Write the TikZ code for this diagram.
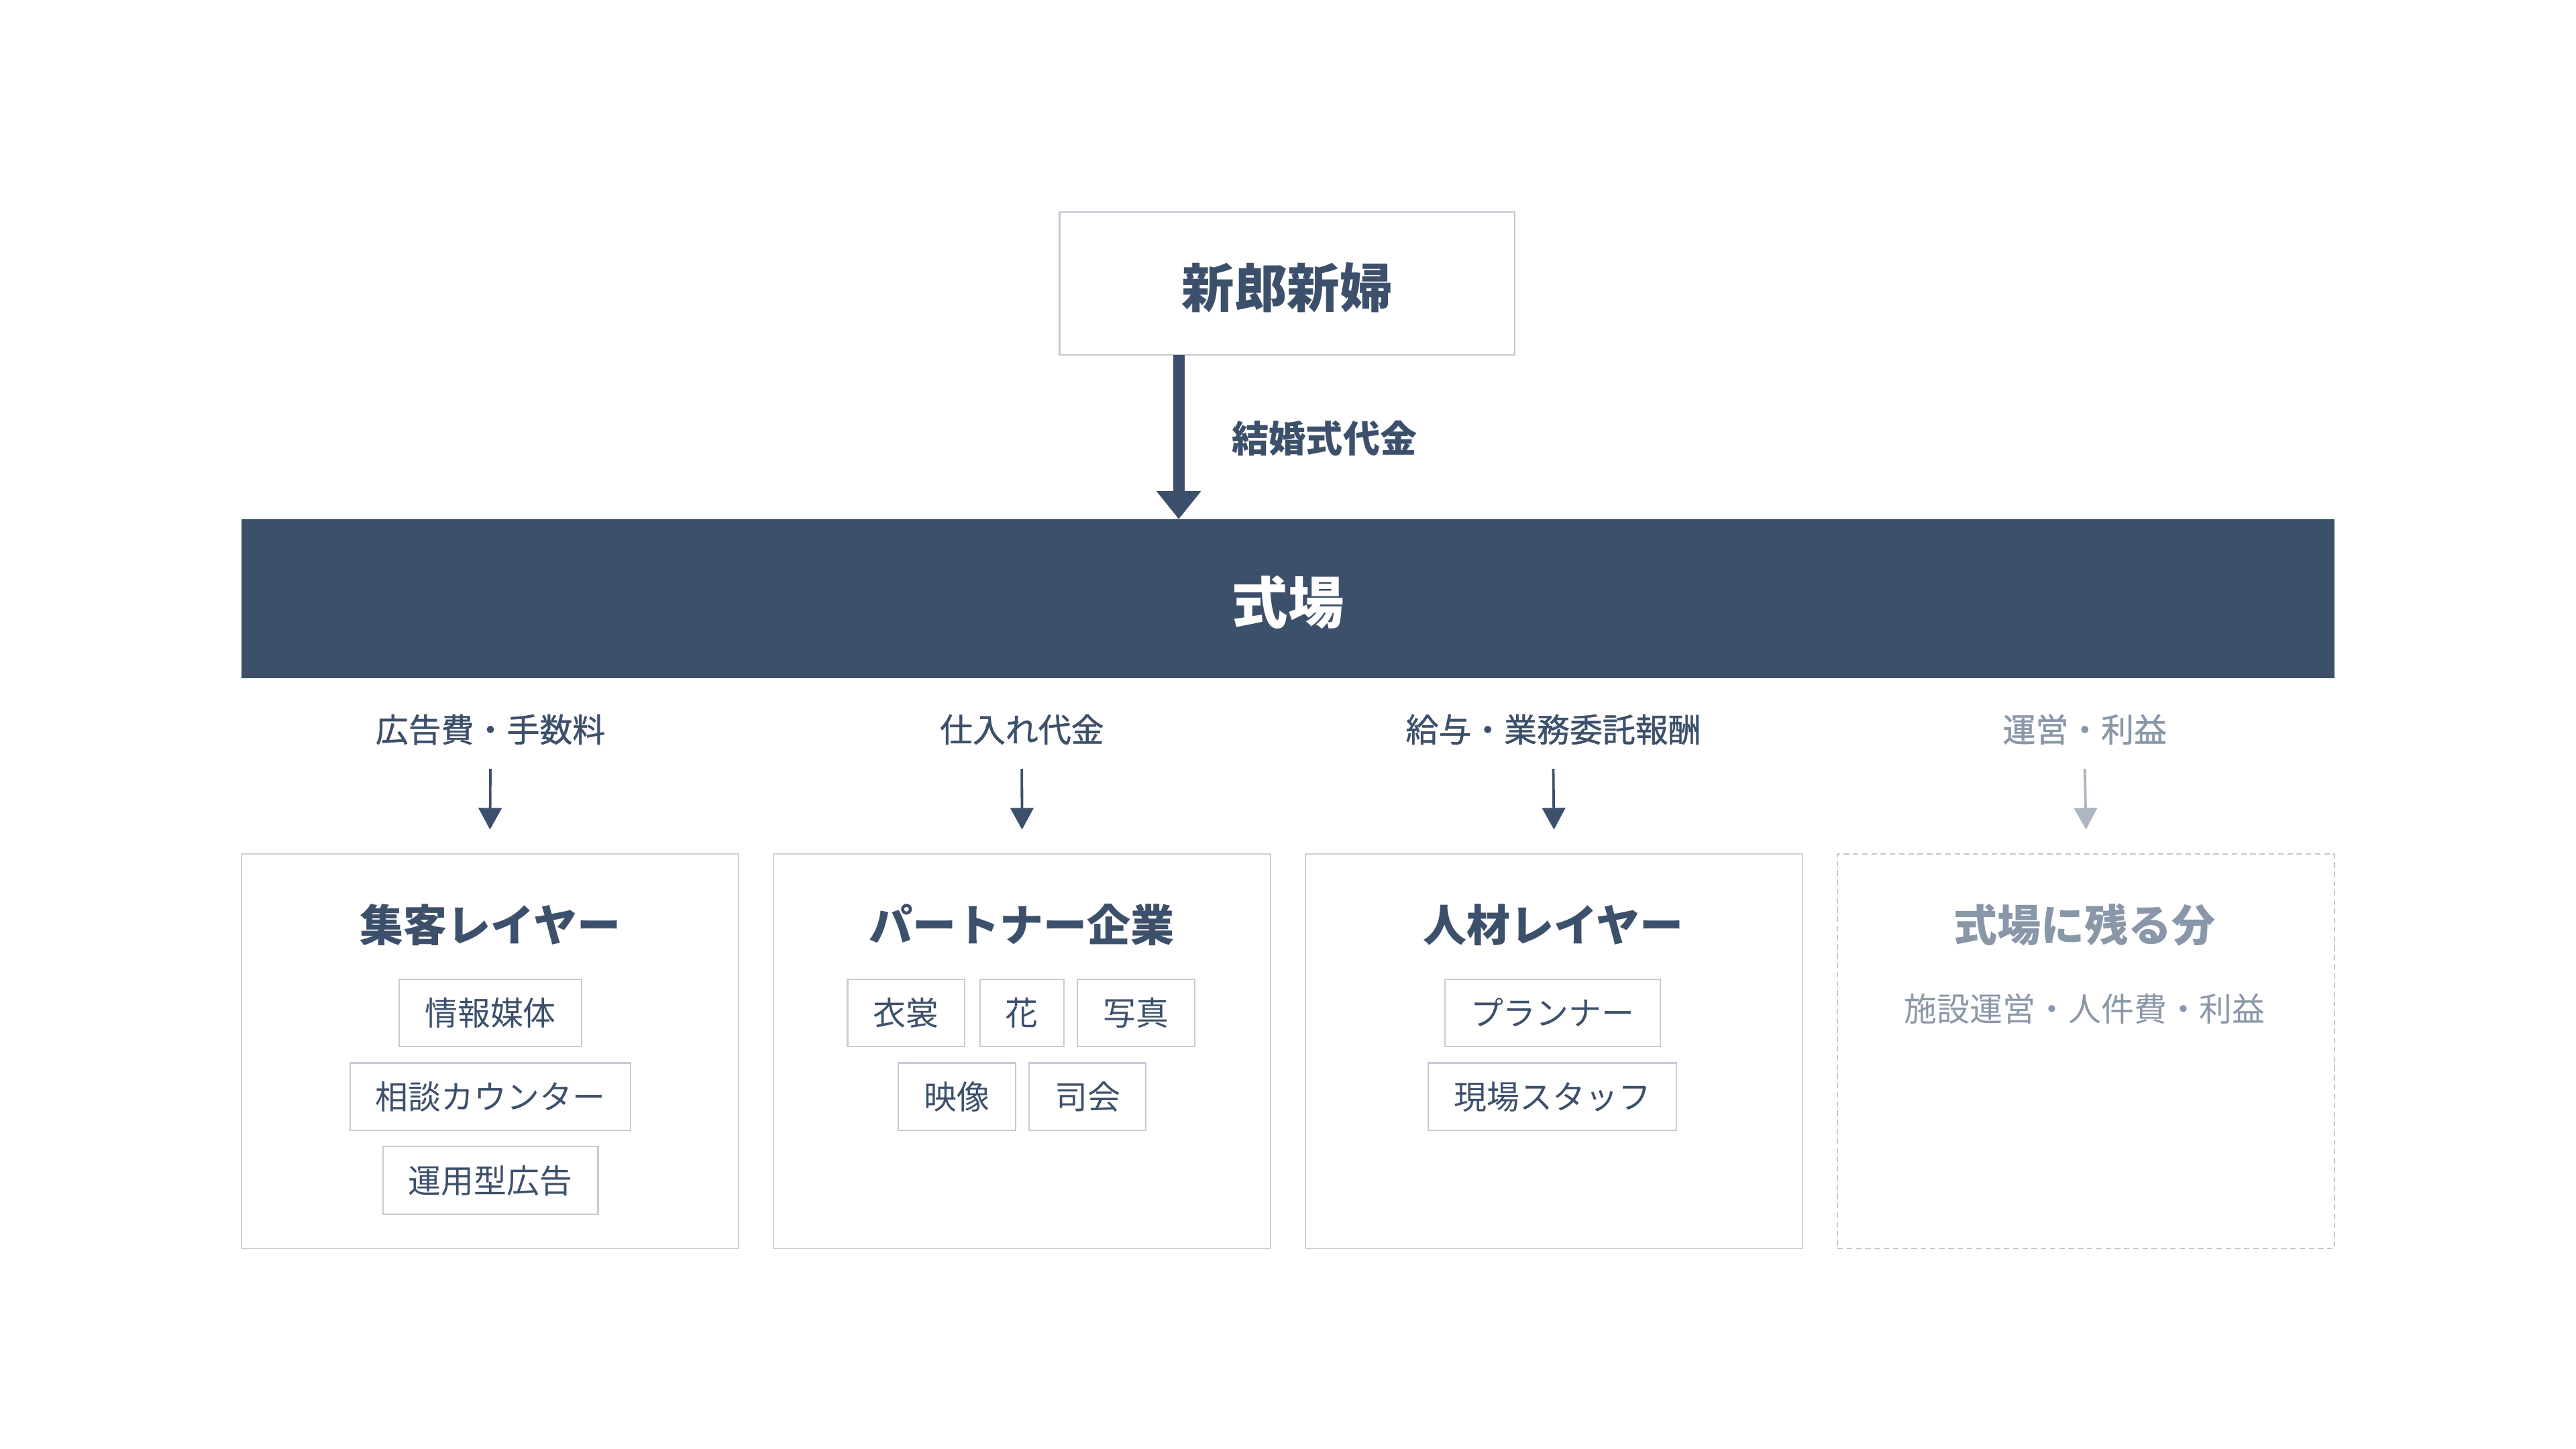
\documentclass[tikz,border=0pt]{standalone}
\usepackage{fontspec}
\setmainfont{Noto Sans CJK JP}
\newfontfamily\jpmed{Noto Sans CJK JP}[FakeBold=1.0]
\usetikzlibrary{arrows.meta,calc}
\definecolor{navy}{HTML}{3D506B}
\definecolor{boxline}{HTML}{CDD2DA}
\definecolor{topline}{HTML}{C0C7D1}
\definecolor{tagline}{HTML}{C6CCD5}
\definecolor{graytxt}{HTML}{8A97A8}
\definecolor{grayarr}{HTML}{AEB6C2}
\definecolor{dashline}{HTML}{C2C8D1}
\begin{document}
\begin{tikzpicture}[x=0.025cm,y=-0.025cm,
  every node/.style={inner sep=0pt, outer sep=0pt},
  couplebox/.style={draw=topline, line width=0.7pt, minimum width=6.925cm, minimum height=2.175cm},
  coupletext/.style={font=\bfseries\fontsize{22.8pt}{22.8pt}\selectfont, text=navy, text height=20pt, text depth=2.7pt},
  venuebar/.style={fill=navy, minimum width=31.85cm, minimum height=2.425cm},
  venuetext/.style={font=\bfseries\fontsize{24.2pt}{24.2pt}\selectfont, text=white, text height=21.3pt, text depth=2.9pt},
  paylabel/.style={font=\bfseries\fontsize{16pt}{16pt}\selectfont, text=navy, text height=14.1pt, text depth=1.9pt},
  collabel/.style={font=\jpmed\fontsize{14.2pt}{14.2pt}\selectfont, text=navy, text height=12.5pt, text depth=1.7pt},
  colbox/.style={draw=boxline, line width=0.6pt, minimum width=7.5625cm, minimum height=6cm},
  coltitle/.style={font=\bfseries\fontsize{18.9pt}{18.9pt}\selectfont, text=navy, text height=16.6pt, text depth=2.3pt},
  tagbox/.style={draw=tagline, line width=0.6pt, inner xsep=0.39cm, minimum height=1.025cm,
    font=\fontsize{14.2pt}{14.2pt}\selectfont, text=navy, text height=12.5pt, text depth=1.7pt},
  bigarrow/.style={draw=navy, line width=5pt, -{Triangle[width=0.65cm, length=0.425cm]}},
  smallarrow/.style={draw=navy, line width=1.1pt, -{Triangle[width=0.35cm, length=0.33cm]}},
  mutedarrow/.style={smallarrow, draw=grayarr, fill=grayarr}
]
\useasboundingbox (0,0) rectangle (1568,882);

% top
\node[couplebox] (couple) at (783.5,172.5) {};
\node[coupletext] (coupleT) at (783.5,175) {新郎新婦};
\node[venuebar] (venue) at (784,364.5) {};
\node[venuetext] (venueT) at (784,366.5) {式場};
\coordinate (ax) at (717.5,0);
\draw[bigarrow] (couple.south -| ax) -- (venue.north -| ax);
\node[paylabel, anchor=west] (pay) at (750,267) {結婚式代金};

% column boxes
\node[colbox] (col1) at (298.25,640) {};
\node[colbox] (col2) at (622.1,640) {};
\node[colbox] (col3) at (945.9,640) {};
\node[colbox, draw=dashline, dash pattern=on 2.4pt off 1.6pt] (col4) at (1269.75,640) {};

% labels
\node[collabel] (lab1) at (298.5,444) {広告費・手数料};
\node[collabel] (lab2) at (622,444) {仕入れ代金};
\node[collabel] (lab3) at (945.5,444) {給与・業務委託報酬};
\node[collabel, text=graytxt] (lab4) at (1269,444) {運営・利益};

\draw[smallarrow] ([yshift=-0.6cm]lab1.center) -- ([yshift=0.375cm]col1.north);
\draw[smallarrow] ([yshift=-0.6cm]lab2.center) -- ([yshift=0.375cm]col2.north);
\draw[smallarrow] ([yshift=-0.6cm]lab3.center) -- ([yshift=0.375cm]col3.north);
\draw[mutedarrow] ([yshift=-0.6cm]lab4.center) -- ([yshift=0.375cm]col4.north);

% titles
\node[coltitle] (t1) at (298.5,563) {集客レイヤー};
\node[coltitle] (t2) at (622,563) {パートナー企業};
\node[coltitle] (t3) at (945.5,563) {人材レイヤー};
\node[coltitle, text=graytxt] (t4) at (1269,563) {式場に残る分};

% column 1 tags
\node[tagbox] (g11) at (298.5,616.5) {情報媒体};
\node[tagbox] (g12) at (298.5,667.5) {相談カウンター};
\node[tagbox] (g13) at (298.5,718.5) {運用型広告};

% column 2 tags
\node[tagbox] (g21) at (551.5,616.5) {衣裳};
\node[tagbox] (g22) at (622,616.5) {花};
\node[tagbox] (g23) at (691.5,616.5) {写真};
\node[tagbox] (g24) at (582.5,667.5) {映像};
\node[tagbox] (g25) at (662,667.5) {司会};

% column 3 tags
\node[tagbox] (g31) at (945,616.5) {プランナー};
\node[tagbox] (g32) at (945,667.5) {現場スタッフ};

% column 4 text
\node[tagbox, draw=none, text=graytxt] (g41) at (1269,614) {施設運営・人件費・利益};
\end{tikzpicture}
\end{document}
